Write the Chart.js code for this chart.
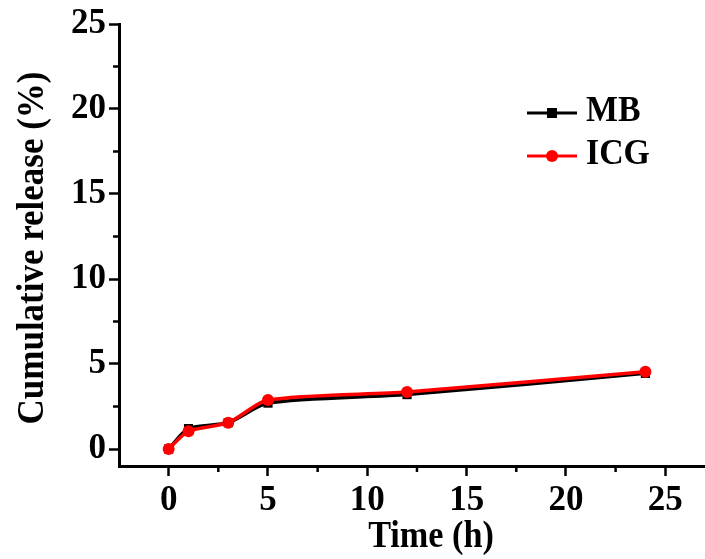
<!DOCTYPE html>
<html>
<head>
<meta charset="utf-8">
<script src="https://cdn.jsdelivr.net/npm/chart.js@4/dist/chart.umd.min.js"></script>
<style>
  html, body { margin: 0; padding: 0; background: #fff; overflow: hidden; }
  #wrap { width: 705px; height: 559px; }
</style>
</head>
<body>
<div id="wrap"><canvas id="releaseChart"></canvas></div>
<script>
// ------------------ data ------------------
var timeH = [0, 1, 3, 5, 12, 24];
var mbRelease = [0, 1.2, 1.55, 2.7, 3.2, 4.45];
var icgRelease = [0, 1.05, 1.55, 2.88, 3.35, 4.55];
var xTicks = [0, 5, 10, 15, 20, 25];
var yTicks = [0, 5, 10, 15, 20, 25];
var xMinor = [2.5, 7.5, 12.5, 17.5, 22.5];
var yMinor = [2.5, 7.5, 12.5, 17.5, 22.5];

var serif = '"Liberation Serif", "Times New Roman", serif';

function points(xs, ys) {
  return xs.map(function (x, i) { return { x: x, y: ys[i] }; });
}

// minor ticks, axis titles and the legend box
var extras = {
  id: 'extras',
  afterDraw: function (chart) {
    var ctx = chart.ctx;
    var area = chart.chartArea;
    var sx = chart.scales.x, sy = chart.scales.y;
    ctx.save();
    ctx.strokeStyle = '#000';
    ctx.lineWidth = 2.5;
    xMinor.forEach(function (v) {
      var px = sx.getPixelForValue(v);
      ctx.beginPath();
      ctx.moveTo(px, area.bottom);
      ctx.lineTo(px, area.bottom + 6);
      ctx.stroke();
    });
    yMinor.forEach(function (v) {
      var py = sy.getPixelForValue(v);
      ctx.beginPath();
      ctx.moveTo(area.left, py);
      ctx.lineTo(area.left - 6, py);
      ctx.stroke();
    });

    // axis titles (slightly condensed, like the original export)
    ctx.fillStyle = '#000';
    ctx.font = 'bold 38px ' + serif;
    ctx.textAlign = 'center';
    ctx.textBaseline = 'alphabetic';
    ctx.save();
    ctx.translate(431, 547);
    ctx.scale(0.9, 1);
    ctx.fillText('Time (h)', 0, 0);
    ctx.restore();

    ctx.save();
    ctx.translate(43, 248);
    ctx.rotate(-Math.PI / 2);
    ctx.scale(0.92, 1);
    ctx.fillText('Cumulative release (%)', 0, 0);
    ctx.restore();

    // legend
    var rows = [
      { ds: chart.data.datasets[0], y: 113 },
      { ds: chart.data.datasets[1], y: 156 }
    ];
    rows.forEach(function (r) {
      var c = r.ds.borderColor;
      ctx.strokeStyle = c;
      ctx.fillStyle = c;
      ctx.lineWidth = 3;
      ctx.beginPath();
      ctx.moveTo(527, r.y);
      ctx.lineTo(577, r.y);
      ctx.stroke();
      if (r.ds.pointStyle === 'rect') {
        ctx.fillRect(552 - 5, r.y - 5, 10, 10);
      } else {
        ctx.beginPath();
        ctx.arc(552, r.y, 6, 0, Math.PI * 2);
        ctx.fill();
      }
      ctx.fillStyle = '#000';
      ctx.font = 'bold 36px ' + serif;
      ctx.textAlign = 'left';
      ctx.save();
      ctx.translate(586, r.y + 8);
      ctx.scale(0.94, 1);
      ctx.fillText(r.ds.label, 0, 0);
      ctx.restore();
    });
    ctx.restore();
  }
};

var ctx = document.getElementById('releaseChart').getContext('2d');
var releaseChart = new Chart(ctx, {
  type: 'line',
  data: {
    datasets: [{
      label: 'MB',
      data: points(timeH, mbRelease),
      borderColor: '#000000',
      backgroundColor: '#000000',
      borderWidth: 3.5,
      pointStyle: 'rect',
      pointRadius: 6.5,
      pointBorderWidth: 0,
      tension: 0.25,
      order: 1
    }, {
      label: 'ICG',
      data: points(timeH, icgRelease),
      borderColor: '#ff0000',
      backgroundColor: '#ff0000',
      borderWidth: 3.5,
      pointStyle: 'circle',
      pointRadius: 6,
      pointBorderWidth: 0,
      tension: 0.25,
      order: 0
    }]
  },
  options: {
    responsive: true,
    maintainAspectRatio: false,
    animation: false,
    events: [],
    layout: { autoPadding: false, padding: { top: 23, right: 0, left: 0, bottom: 0 } },
    plugins: {
      legend: { display: false },
      tooltip: { enabled: false }
    },
    scales: {
      x: {
        type: 'linear',
        min: -2.5,
        max: 27,
        afterFit: function (s) {
          s.height = 93;
          s.paddingLeft = 0;
          s.paddingRight = 0;
        },
        afterBuildTicks: function (s) {
          s.ticks = xTicks.map(function (v) { return { value: v }; });
        },
        border: { display: true, color: '#000', width: 3 },
        grid: { drawOnChartArea: false, drawTicks: true, tickLength: 10, tickWidth: 2.5, tickColor: '#000' },
        ticks: {
          color: '#000',
          padding: 4,
          maxRotation: 0,
          font: { family: serif, size: 35, weight: 'bold' }
        }
      },
      y: {
        type: 'linear',
        min: -1,
        max: 25,
        afterFit: function (s) { s.width = 119; },
        afterBuildTicks: function (s) {
          s.ticks = yTicks.map(function (v) { return { value: v }; });
        },
        border: { display: true, color: '#000', width: 3 },
        grid: { drawOnChartArea: false, drawTicks: true, tickLength: 10, tickWidth: 2.5, tickColor: '#000' },
        ticks: {
          color: '#000',
          padding: 3,
          font: { family: serif, size: 35, weight: 'bold' }
        }
      }
    }
  },
  plugins: [extras]
});
</script>
</body>
</html>
